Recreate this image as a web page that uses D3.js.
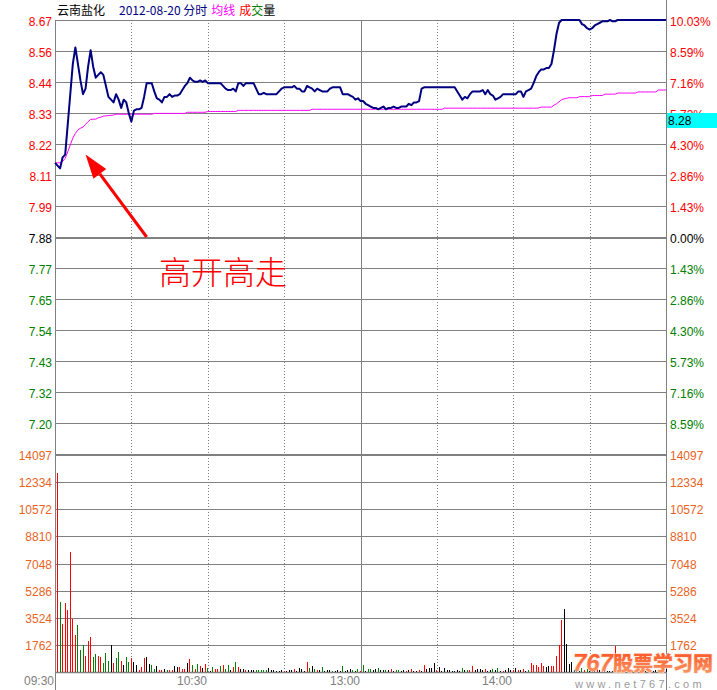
<!DOCTYPE html>
<html><head><meta charset="utf-8">
<script src="https://cdn.jsdelivr.net/npm/d3@7"></script>
<style>body{margin:0;background:#fff;overflow:hidden}svg{display:block}</style>
</head><body>
<svg id="c" width="717" height="690"></svg>
<script>
// ---------------- DATA ----------------
const stockName = "云南盐化";
const dateLabel = "2012-08-20 分时";
const prevClose = 7.88;
const limitPrice = 8.67;
const lastPrice = "8.28";

const leftPriceLabels = ["8.67","8.56","8.44","8.33","8.22","8.11","7.99","7.88","7.77","7.65","7.54","7.43","7.32","7.20"];
const rightPctLabels = ["10.03%","8.59%","7.16%","5.73%","4.30%","2.86%","1.43%","0.00%","1.43%","2.86%","4.30%","5.73%","7.16%","8.59%"];
const volLabels = ["14097","12334","10572","8810","7048","5286","3524","1762"];
const volMax = 14097;
const timeLabels = ["09:30","10:30","13:00","14:00"];
const timeLabelMinutes = [0, 60, 120, 180];
const gridMinutes = [30, 60, 90, 120, 150, 180, 210];
const totalMinutes = 240;

// price per minute (09:30 .. 15:00)
const price = [
8.15,8.14,8.13,8.17,8.18,8.29,8.40,8.51,8.57,8.51,
8.45,8.40,8.42,8.50,8.56,8.50,8.46,8.47,8.48,8.47,
8.43,8.39,8.38,8.37,8.40,8.38,8.35,8.38,8.37,8.33,
8.30,8.34,8.345,8.345,8.35,8.39,8.44,8.44,8.44,8.41,
8.385,8.38,8.37,8.39,8.39,8.40,8.39,8.395,8.395,8.40,
8.415,8.43,8.44,8.46,8.45,8.445,8.445,8.45,8.445,8.45,
8.44,8.44,8.44,8.44,8.44,8.44,8.43,8.42,8.415,8.415,
8.42,8.41,8.44,8.44,8.43,8.44,8.44,8.44,8.44,8.42,
8.40,8.40,8.405,8.40,8.40,8.40,8.40,8.40,8.41,8.42,
8.425,8.425,8.425,8.425,8.43,8.42,8.42,8.41,8.41,8.43,
8.425,8.42,8.41,8.42,8.415,8.41,8.41,8.41,8.42,8.425,
8.425,8.425,8.425,8.40,8.40,8.40,8.395,8.39,8.38,8.385,
8.375,8.375,8.365,8.36,8.355,8.35,8.35,8.345,8.35,8.355,
8.345,8.35,8.35,8.355,8.35,8.35,8.355,8.355,8.355,8.365,
8.36,8.37,8.37,8.375,8.42,8.425,8.425,8.425,8.425,8.425,
8.425,8.425,8.425,8.425,8.425,8.425,8.425,8.425,8.41,8.395,
8.38,8.39,8.385,8.40,8.41,8.41,8.41,8.41,8.415,8.40,
8.415,8.40,8.395,8.38,8.385,8.39,8.40,8.40,8.40,8.40,
8.40,8.40,8.41,8.41,8.39,8.41,8.415,8.42,8.44,8.465,
8.48,8.49,8.49,8.495,8.495,8.51,8.56,8.62,8.66,8.67,
8.67,8.67,8.67,8.67,8.67,8.67,8.67,8.655,8.65,8.64,
8.635,8.64,8.65,8.655,8.66,8.665,8.665,8.665,8.67,8.665,
8.665,8.67,8.67,8.67,8.67,8.67,8.67,8.67,8.67,8.67,
8.67,8.67,8.67,8.67,8.67,8.67,8.67,8.67,8.67,8.67,
8.67
];

// average price per minute
const avgPrice = [
8.15,8.15,8.15,8.155,8.166,8.19,8.215,8.24,8.257,8.27,
8.276,8.28,8.29,8.30,8.308,8.309,8.309,8.314,8.316,8.32,
8.321,8.322,8.323,8.324,8.327,8.327,8.327,8.327,8.327,8.327,
8.327,8.327,8.327,8.327,8.327,8.327,8.327,8.327,8.327,8.33,
8.33,8.33,8.33,8.33,8.33,8.33,8.33,8.33,8.33,8.33,
8.33,8.33,8.334,8.334,8.334,8.334,8.334,8.334,8.334,8.334,
8.337,8.337,8.337,8.337,8.337,8.337,8.337,8.337,8.337,8.337,
8.337,8.337,8.341,8.341,8.341,8.341,8.341,8.341,8.341,8.341,
8.341,8.341,8.341,8.341,8.341,8.341,8.341,8.341,8.341,8.341,
8.341,8.341,8.341,8.341,8.341,8.341,8.341,8.341,8.341,8.341,
8.341,8.345,8.345,8.345,8.345,8.345,8.345,8.345,8.345,8.345,
8.345,8.345,8.345,8.345,8.345,8.345,8.345,8.345,8.345,8.345,
8.345,8.345,8.345,8.345,8.345,8.345,8.345,8.345,8.345,8.345,
8.345,8.345,8.345,8.345,8.345,8.345,8.345,8.345,8.345,8.345,
8.345,8.345,8.345,8.345,8.345,8.345,8.345,8.345,8.345,8.345,
8.345,8.345,8.345,8.349,8.349,8.349,8.349,8.349,8.349,8.349,
8.349,8.349,8.349,8.349,8.349,8.349,8.349,8.349,8.349,8.349,
8.349,8.349,8.349,8.349,8.349,8.349,8.349,8.349,8.349,8.349,
8.349,8.349,8.349,8.349,8.349,8.349,8.349,8.349,8.349,8.349,
8.35,8.353,8.353,8.353,8.353,8.353,8.36,8.365,8.372,8.38,
8.383,8.385,8.387,8.387,8.387,8.387,8.391,8.391,8.391,8.391,
8.391,8.395,8.395,8.395,8.395,8.395,8.40,8.40,8.40,8.40,
8.40,8.404,8.404,8.404,8.404,8.404,8.404,8.404,8.404,8.408,
8.408,8.408,8.408,8.408,8.408,8.408,8.408,8.415,8.415,8.415,
8.415
];

// volume per minute (09:31 .. 15:00)
const volume = [
12930,4550,3140,4480,4030,7800,3440,2400,3050,1430,
1750,1040,2015,2270,975,1170,1040,975,585,1235,
715,1755,585,910,1300,715,455,975,650,910,
650,455,130,325,910,975,520,455,195,390,
130,130,195,130,130,130,390,325,325,195,
195,585,845,455,195,520,390,260,520,260,
65,325,195,195,390,455,195,455,130,325,
650,325,217,170,110,130,130,130,130,130,
130,130,130,280,130,110,90,90,150,90,
90,130,130,217,90,260,170,90,670,260,
390,200,130,130,325,90,110,130,90,90,
130,90,390,90,130,217,130,90,200,90,
455,90,217,170,130,170,260,110,130,130,
110,170,90,130,130,90,130,90,130,200,
90,90,130,90,455,200,240,240,606,130,
347,90,260,130,130,90,90,130,90,260,
130,130,130,390,130,170,170,130,170,90,
130,200,130,260,90,90,130,260,130,130,
260,130,130,170,90,130,585,455,455,347,
585,368,347,390,390,390,1040,1776,3380,4094,
1820,520,650,130,90,90,260,130,170,90,
130,90,260,130,90,130,90,90,90,1710,
130,90,130,90,90,130,90,90,130,90,
90,90,130,90,90,130,90,90,130,200
];
// direction of each minute: 1 up, -1 down, 0 flat
const volDir = [
1,-1,1,1,1,1,1,1,-1,-1,
-1,1,1,1,-1,-1,1,1,-1,-1,
-1,0,1,-1,-1,1,0,-1,-1,1,
0,0,1,1,1,0,0,-1,-1,0,
1,1,0,-1,1,1,0,0,1,1,
1,0,1,-1,1,-1,1,0,1,-1,
0,-1,1,1,-1,1,-1,-1,0,1,
-1,1,0,0,1,0,0,0,-1,-1,
-1,-1,-1,0,0,0,0,0,0,1,
0,0,0,1,0,0,0,0,1,-1,
0,-1,1,0,-1,0,0,0,-1,0,
0,0,-1,0,0,0,-1,0,-1,1,
-1,0,-1,-1,0,0,-1,0,0,-1,
0,1,0,-1,-1,0,0,1,0,1,
0,0,1,0,1,0,0,0,0,1,
0,0,0,0,0,0,0,0,0,-1,
0,-1,1,1,0,0,0,0,1,0,
0,-1,0,-1,0,1,0,0,0,1,
0,1,0,1,0,-1,1,1,1,1,
1,1,0,0,1,1,1,1,1,0,
0,0,0,0,0,0,-1,1,-1,0,
1,0,1,0,1,0,0,0,0,1,
0,0,0,0,0,0,0,0,0,0,
0,0,0,0,0,0,0,0,0,0
];

// ---------------- CHART ----------------
const svg = d3.select("#c");
const L = 55, R = 666, PT = 20, PB = 454, VT = 455, VB = 672;
const step = (limitPrice - prevClose) / 7;
const x = d3.scaleLinear().domain([0, totalMinutes]).range([L, R]);
const yP = d3.scaleLinear().domain([prevClose - 7 * step, prevClose + 7 * step]).range([PB, PT]);
const yV = d3.scaleLinear().domain([0, volMax]).range([VB, VT]);
const grid = "#808080";
const numFont = "'Liberation Sans', Arial, sans-serif";
const cjkFont = "'Noto Sans CJK SC', sans-serif";
const UP = "#ff0000", DN = "#008000";
const volColor = "#e8641e";

// vertical dotted grid
gridMinutes.forEach(m => {
  const xx = Math.round(x(m)) + 0.5;
  svg.append("line").attr("x1", xx).attr("x2", xx).attr("y1", PT).attr("y2", VB)
    .attr("stroke", grid).attr("stroke-width", 1)
    .attr("stroke-dasharray", m === 120 ? null : "1,2");
});

// price horizontal grid + labels
leftPriceLabels.forEach((lab, k) => {
  const v = prevClose + (7 - k) * step;
  const yy = Math.round(yP(v));
  const thick = (k === 7);
  svg.append("line").attr("x1", L).attr("x2", R)
    .attr("y1", thick ? yy + 1 : yy + 0.5).attr("y2", thick ? yy + 1 : yy + 0.5)
    .attr("stroke", grid).attr("stroke-width", thick ? 2 : 1);
  const col = k < 7 ? UP : (k === 7 ? "#000" : DN);
  svg.append("text").attr("x", 52).attr("y", yy + 5.5).attr("text-anchor", "end")
    .attr("font-family", numFont).attr("font-size", 12).attr("fill", col).text(lab);
  svg.append("text").attr("x", 670).attr("y", yy + 5.5)
    .attr("font-family", numFont).attr("font-size", 12).attr("fill", col).text(rightPctLabels[k]);
});

// volume grid + labels
volLabels.forEach((lab, k) => {
  const yy = Math.round(yV(+lab));
  const thick = k === 0;
  svg.append("line").attr("x1", L).attr("x2", R)
    .attr("y1", thick ? yy : yy + 0.5).attr("y2", thick ? yy : yy + 0.5)
    .attr("stroke", grid).attr("stroke-width", thick ? 2 : 1);
  svg.append("text").attr("x", 52).attr("y", yy + 5).attr("text-anchor", "end")
    .attr("font-family", numFont).attr("font-size", 12).attr("fill", volColor).text(lab);
  svg.append("text").attr("x", 670).attr("y", yy + 5)
    .attr("font-family", numFont).attr("font-size", 12).attr("fill", volColor).text(lab);
});

// borders
svg.append("line").attr("x1", L + 0.5).attr("x2", L + 0.5).attr("y1", PT).attr("y2", 690).attr("stroke", grid);
svg.append("line").attr("x1", R + 0.5).attr("x2", R + 0.5).attr("y1", 0).attr("y2", 690).attr("stroke", grid);
svg.append("line").attr("x1", L).attr("x2", R).attr("y1", VB + 0.5).attr("y2", VB + 0.5).attr("stroke", grid).attr("stroke-width", 1.5);

// volume bars
svg.append("g").selectAll("line").data(volume).join("line")
  .attr("x1", (d, i) => Math.floor(x(i + 1)) + 0.5)
  .attr("x2", (d, i) => Math.floor(x(i + 1)) + 0.5)
  .attr("y1", VB).attr("y2", d => yV(d))
  .attr("stroke", (d, i) => volDir[i] > 0 ? UP : (volDir[i] < 0 ? DN : "#000"))
  .attr("stroke-width", 1).attr("shape-rendering", "crispEdges");

// avg line
svg.append("path").datum(avgPrice)
  .attr("d", d3.line().x((d, i) => x(i)).y(d => yP(d)))
  .attr("fill", "none").attr("stroke", "#ff00ff").attr("stroke-width", 1);

// price line
svg.append("path").datum(price)
  .attr("d", d3.line().x((d, i) => x(i)).y(d => yP(d)))
  .attr("fill", "none").attr("stroke", "#000080").attr("stroke-width", 2).attr("stroke-linejoin", "round");

// last price box
const yLast = Math.round(yP(prevClose + 4 * step));
svg.append("rect").attr("x", 667).attr("y", yLast).attr("width", 50).attr("height", 15).attr("fill", "#00ffff");
svg.append("text").attr("x", 668).attr("y", yLast + 12).attr("font-family", numFont).attr("font-size", 12)
  .attr("fill", "#000").text(lastPrice);

// time labels
timeLabels.forEach((t, k) => {
  svg.append("text").attr("x", Math.round(x(timeLabelMinutes[k])) - 1).attr("y", 685).attr("text-anchor", "end")
    .attr("font-family", numFont).attr("font-size", 12).attr("fill", "#808080").text(t);
});

// header
const hdr = svg.append("text").attr("x", 57).attr("y", 15).attr("font-size", 12).attr("font-family", cjkFont);
hdr.append("tspan").attr("fill", "#000").text(stockName);
hdr.append("tspan").attr("fill", "#000080").attr("dx", 14).text(dateLabel);
hdr.append("tspan").attr("fill", "#ff00ff").attr("dx", 4).text("均线");
hdr.append("tspan").attr("fill", "#ff0000").attr("dx", 4).text("成");
hdr.append("tspan").attr("fill", "#008000").text("交");
hdr.append("tspan").attr("fill", "#000").text("量");

// annotation arrow
const tip = [x(12), yP(8.18)], tail = [x(36), yP(prevClose)];
const dx = tip[0] - tail[0], dy = tip[1] - tail[1], len = Math.hypot(dx, dy);
const ux = dx / len, uy = dy / len, hl = 24, hw = 8;
const base = [tip[0] - hl * ux, tip[1] - hl * uy];
svg.append("line").attr("x1", tail[0]).attr("y1", tail[1]).attr("x2", base[0]).attr("y2", base[1])
  .attr("stroke", "#ff0000").attr("stroke-width", 3);
svg.append("polygon").attr("points", [
  tip, [base[0] - hw * uy, base[1] + hw * ux], [base[0] + hw * uy, base[1] - hw * ux]
].map(p => p.join(",")).join(" ")).attr("fill", "#ff0000");
svg.append("text").attr("x", 159).attr("y", 284).attr("font-family", cjkFont).attr("font-weight", 300)
  .attr("font-size", 32).attr("fill", "#ff0000").text("高开高走");

// watermark
const defs = svg.append("defs");
const gr = defs.append("linearGradient").attr("id", "wm").attr("x1", 0).attr("y1", 0).attr("x2", 0).attr("y2", 1);
gr.append("stop").attr("offset", "0").attr("stop-color", "#ff4a1a");
gr.append("stop").attr("offset", "1").attr("stop-color", "#f7a070");
const wm = svg.append("text").attr("x", 573).attr("y", 671).attr("font-family", cjkFont).attr("font-weight", 900)
  .attr("fill", "url(#wm)").attr("stroke", "#fde2d2").attr("stroke-width", 1.2).attr("paint-order", "stroke");
wm.append("tspan").attr("font-family", numFont).attr("font-style", "italic").attr("font-weight", 700)
  .attr("font-size", 24).text("767");
wm.append("tspan").attr("font-size", 20).text("股票学习网");
svg.append("text").attr("x", 575).attr("y", 688).attr("font-family", numFont).attr("font-size", 11)
  .attr("letter-spacing", 3.3).attr("fill", "#9a9a9a").text("www.net767.com");
</script>
</body></html>
